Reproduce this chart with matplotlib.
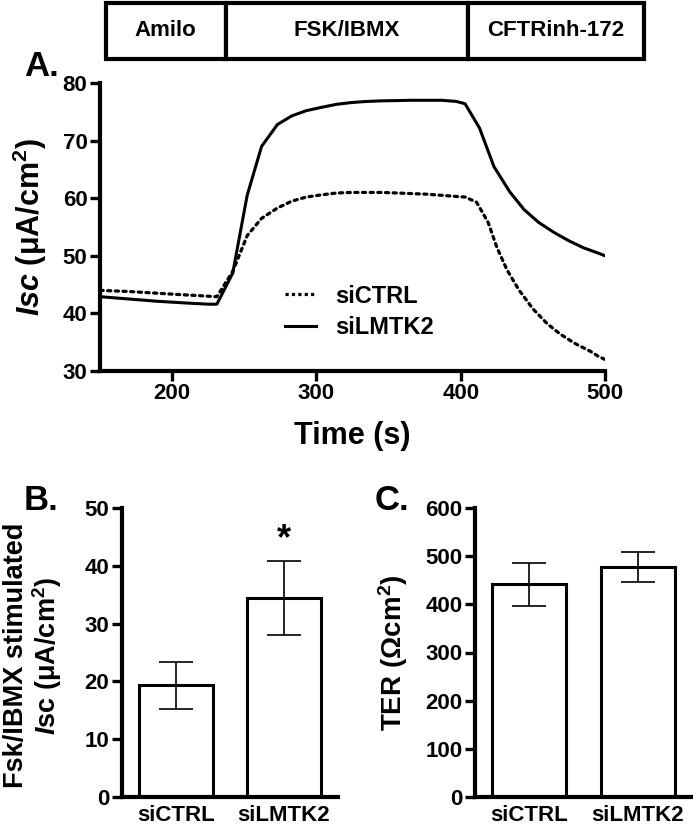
import matplotlib
matplotlib.use("Agg")
import matplotlib.pyplot as plt
from matplotlib.patches import Rectangle
from matplotlib.lines import Line2D

plt.rcParams['font.family'] = ['Liberation Sans', 'DejaVu Sans']
plt.rcParams['font.weight'] = 'bold'
plt.rcParams['mathtext.fontset'] = 'custom'
plt.rcParams['mathtext.rm'] = 'Liberation Sans'
plt.rcParams['mathtext.it'] = 'Liberation Sans:italic:bold'
plt.rcParams['mathtext.bf'] = 'Liberation Sans:bold'

# ---------------- data ----------------
# treatment periods (s)
treat_names = ["Amilo", "FSK/IBMX", "CFTRinh-172"]
treat_bounds = [154, 237, 405, 527]

# Panel A traces
time_lmtk2 = [150, 170, 190, 210, 225, 231, 242, 252, 262, 273, 283, 293, 304, 314,
              324, 335, 345, 356, 366, 376, 387, 397, 403, 413, 423, 434, 444, 454,
              465, 475, 485, 496, 500]
isc_lmtk2 = [42.9, 42.5, 42.1, 41.8, 41.6, 41.6, 47.0, 60.5, 69.0, 72.8, 74.3, 75.2,
             75.8, 76.3, 76.6, 76.8, 76.9, 76.95, 77.0, 77.0, 77.0, 76.8, 76.4, 72.2,
             65.5, 61.1, 58.0, 55.8, 54.0, 52.6, 51.4, 50.4, 50.0]

time_ctrl = [150, 170, 190, 210, 231, 242, 252, 262, 273, 283, 293, 304, 314, 324,
             335, 345, 356, 366, 376, 387, 397, 403, 411, 419, 425, 432, 440, 450,
             460, 469, 479, 490, 495, 500]
isc_ctrl = [44.0, 43.8, 43.5, 43.2, 42.9, 47.3, 53.5, 56.5, 58.3, 59.5, 60.2, 60.6,
            60.9, 61.0, 61.0, 61.0, 60.9, 60.8, 60.7, 60.5, 60.3, 60.2, 59.3, 55.8,
            51.5, 47.6, 44.2, 40.8, 38.2, 36.4, 34.8, 33.4, 32.6, 32.0]

# Panel B
groups = ["siCTRL", "siLMTK2"]
fsk_mean = [19.4, 34.5]
fsk_err_low = [4.1, 6.4]
fsk_err_high = [4.0, 6.4]
sig_marks = ["", "*"]
sig_y = [None, 44.5]

# Panel C
ter_mean = [443, 477]
ter_err_low = [47, 31]
ter_err_high = [42, 31]

# ---------------- figure ----------------
W, H = 693, 827
fig = plt.figure(figsize=(W / 100, H / 100), dpi=100)

def px_axes(l, r, t, b):
    return fig.add_axes([l / W, 1 - b / H, (r - l) / W, (b - t) / H])

SPW = 3.0

def style(ax):
    for s in ['top', 'right']:
        ax.spines[s].set_visible(False)
    for s in ['left', 'bottom']:
        ax.spines[s].set_linewidth(SPW)
    ax.tick_params(width=2.4, length=7, labelsize=16, pad=2)

# Panel A
axA = px_axes(100, 605, 83, 371)
axA.plot(time_ctrl, isc_ctrl, color='black', lw=2.3, linestyle=(0, (1, 1.4)),
         dash_capstyle='round', label='siCTRL')
axA.plot(time_lmtk2, isc_lmtk2, color='black', lw=2.2, label='siLMTK2')
axA.set_xlim(150, 500)
axA.set_ylim(30, 80)
axA.set_xticks([200, 300, 400, 500])
axA.set_yticks([30, 40, 50, 60, 70, 80])
style(axA)
axA.set_xlabel('Time (s)', fontsize=22, fontweight='bold')
axA.xaxis.set_label_coords(0.5, -0.175)
axA.xaxis.label.set_va('top')
axA.set_ylabel(r'$\mathit{Isc}$ ($\mathrm{μ}$A/cm$^{\mathbf{2}}$)', fontsize=22, fontweight='bold')
axA.yaxis.set_label_coords(-0.10, 0.5)
leg_handles = [Line2D([], [], color='black', lw=2.3, linestyle=(0, (1, 1.0))),
               Line2D([], [], color='black', lw=2.2)]
axA.legend(leg_handles, ['siCTRL', 'siLMTK2'], loc='upper left',
           bbox_to_anchor=(0.366, 0.30), frameon=False, borderpad=0, borderaxespad=0,
           handlelength=1.3, handletextpad=0.85, labelspacing=0.35,
           prop={'size': 17, 'weight': 'bold'})

# Treatment boxes (same time scale as panel A)
pxu = 505 / 350.0
axT = px_axes(100, 650, 3, 59)
axT.set_xlim(150, 150 + 550 / pxu)
axT.set_ylim(0, 1)
axT.axis('off')
for i, name in enumerate(treat_names):
    x0, x1 = treat_bounds[i], treat_bounds[i + 1]
    axT.add_patch(Rectangle((x0, 0), x1 - x0, 1, facecolor='white', edgecolor='black',
                            lw=3, clip_on=False))
    axT.text((x0 + x1) / 2, 0.5, name, ha='center', va='center', fontsize=16,
             fontweight='bold')

# Panel B
axB = px_axes(122, 338, 508, 797)
xpos = [0, 1]
axB.bar(xpos, fsk_mean, width=0.68, facecolor='white', edgecolor='black', lw=2.2, zorder=2)
axB.errorbar(xpos, fsk_mean, yerr=[fsk_err_low, fsk_err_high], fmt='none', ecolor='black',
             elinewidth=1.2, capsize=12.5, capthick=1.2, zorder=3)
for x, m, y in zip(xpos, sig_marks, sig_y):
    if m:
        axB.text(x, y, m, ha='center', va='center', fontsize=26, fontweight='bold')
axB.set_xlim(-0.5, 1.5)
axB.set_ylim(0, 50)
axB.set_yticks([0, 10, 20, 30, 40, 50])
axB.set_xticks(xpos)
axB.set_xticklabels(groups)
style(axB)
axB.tick_params(axis='x', length=0, pad=6)
axB.set_ylabel('Fsk/IBMX stimulated\n' + r'$\mathit{I}$sc ($\mathrm{μ}$A/cm$^{\mathbf{2}}$)',
               fontsize=19.5, fontweight='bold', linespacing=1.05)
axB.yaxis.set_label_coords(-0.27, 0.49)

# Panel C
axC = px_axes(475, 692, 508, 797)
axC.bar(xpos, ter_mean, width=0.68, facecolor='white', edgecolor='black', lw=2.2, zorder=2)
axC.errorbar(xpos, ter_mean, yerr=[ter_err_low, ter_err_high], fmt='none', ecolor='black',
             elinewidth=1.2, capsize=12.5, capthick=1.2, zorder=3)
axC.set_xlim(-0.5, 1.5)
axC.set_ylim(0, 600)
axC.set_yticks([0, 100, 200, 300, 400, 500, 600])
axC.set_xticks(xpos)
axC.set_xticklabels(groups)
style(axC)
axC.tick_params(axis='x', length=0, pad=6)
axC.set_ylabel(r'TER ($\mathrm{Ω}$cm$^{\mathbf{2}}$)', fontsize=20, fontweight='bold')
axC.yaxis.set_label_coords(-0.30, 0.5)

# Panel letters
fig.text(24 / W, 1 - 66 / H, 'A.', fontsize=25, fontweight='bold', va='center', ha='left')
fig.text(24 / W, 1 - 500 / H, 'B.', fontsize=25, fontweight='bold', va='center', ha='left')
fig.text(375 / W, 1 - 500 / H, 'C.', fontsize=25, fontweight='bold', va='center', ha='left')

fig.savefig('out.png', dpi=100)
